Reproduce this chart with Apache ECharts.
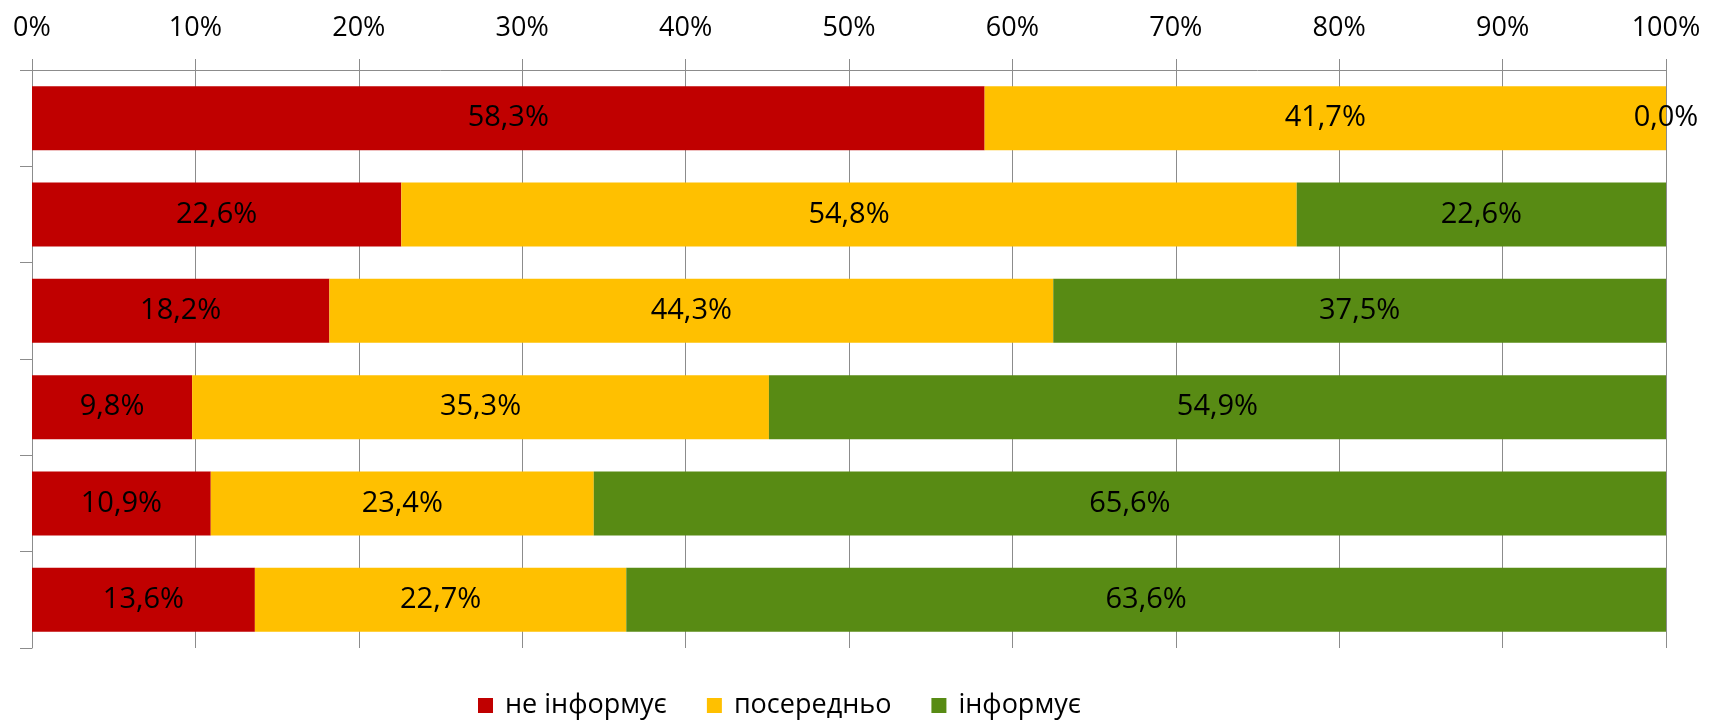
<!DOCTYPE html>
<html>
<head>
<meta charset="utf-8">
<script src="https://cdn.jsdelivr.net/npm/echarts@6/dist/echarts.min.js"></script>
<style>
  html, body { margin: 0; padding: 0; background: #ffffff; }
  #chart { width: 1714px; height: 721px; }
</style>
</head>
<body>
<div id="chart"></div>
<script>
// Data (shares in %; labels show one decimal)
const categories = ['1', '2', '3', '4', '5', '6'];
const seriesNames = ['не інформує', 'посередньо', 'інформує'];
const notInforms = [58.3, 22.6, 18.2, 9.8, 10.94, 13.64];
const moderate   = [41.7, 54.8, 44.3, 35.3, 23.44, 22.73];
const informs    = [0.0, 22.6, 37.5, 54.9, 65.62, 63.63];
const xTicks = [0, 10, 20, 30, 40, 50, 60, 70, 80, 90, 100];

const colors = ['#C00000', '#FFC000', '#588B14'];
const FONT = '"Open Sans", "Noto Sans", sans-serif';
const gridColor = '#8C8C8C';

const chart = echarts.init(document.getElementById('chart'), null, { renderer: 'canvas' });

function mkSeries(name, data, color) {
  return {
    name: name,
    type: 'bar',
    stack: 'total',
    data: data,
    barCategoryGap: '33.5%',
    itemStyle: { color: color },
    label: {
      show: true,
      position: 'inside',
      color: '#000',
      fontFamily: FONT,
      fontSize: 29,
      formatter: p => p.value.toFixed(1).replace('.', ',') + '%'
    },
    emphasis: { disabled: true }
  };
}

chart.setOption({
  animation: false,
  backgroundColor: '#ffffff',
  grid: { left: 32, right: 48, top: 70, bottom: 73 },
  legend: {
    data: seriesNames,
    left: 478,
    top: 692,
    padding: 0,
    itemWidth: 15,
    itemHeight: 15,
    itemGap: 40,
    icon: 'rect',
    textStyle: { fontFamily: FONT, fontSize: 27, color: '#000', padding: [0, 0, 0, 7] }
  },
  xAxis: {
    type: 'value',
    position: 'top',
    min: xTicks[0],
    max: xTicks[xTicks.length - 1],
    interval: 10,
    axisLine: { show: true, lineStyle: { color: gridColor, width: 1 } },
    axisTick: { show: true, length: 11, lineStyle: { color: gridColor, width: 1 } },
    splitLine: { show: true, lineStyle: { color: gridColor, width: 1 } },
    axisLabel: {
      margin: 28,
      color: '#000',
      fontFamily: FONT,
      fontSize: 27,
      formatter: v => v + '%'
    }
  },
  yAxis: {
    type: 'category',
    data: categories,
    inverse: true,
    axisLine: { show: true, lineStyle: { color: gridColor, width: 1 } },
    axisTick: { show: true, length: 12, lineStyle: { color: gridColor, width: 1 } },
    axisLabel: { show: false },
    splitLine: { show: false }
  },
  series: [
    mkSeries(seriesNames[0], notInforms, colors[0]),
    mkSeries(seriesNames[1], moderate, colors[1]),
    mkSeries(seriesNames[2], informs, colors[2])
  ]
});
</script>
</body>
</html>
